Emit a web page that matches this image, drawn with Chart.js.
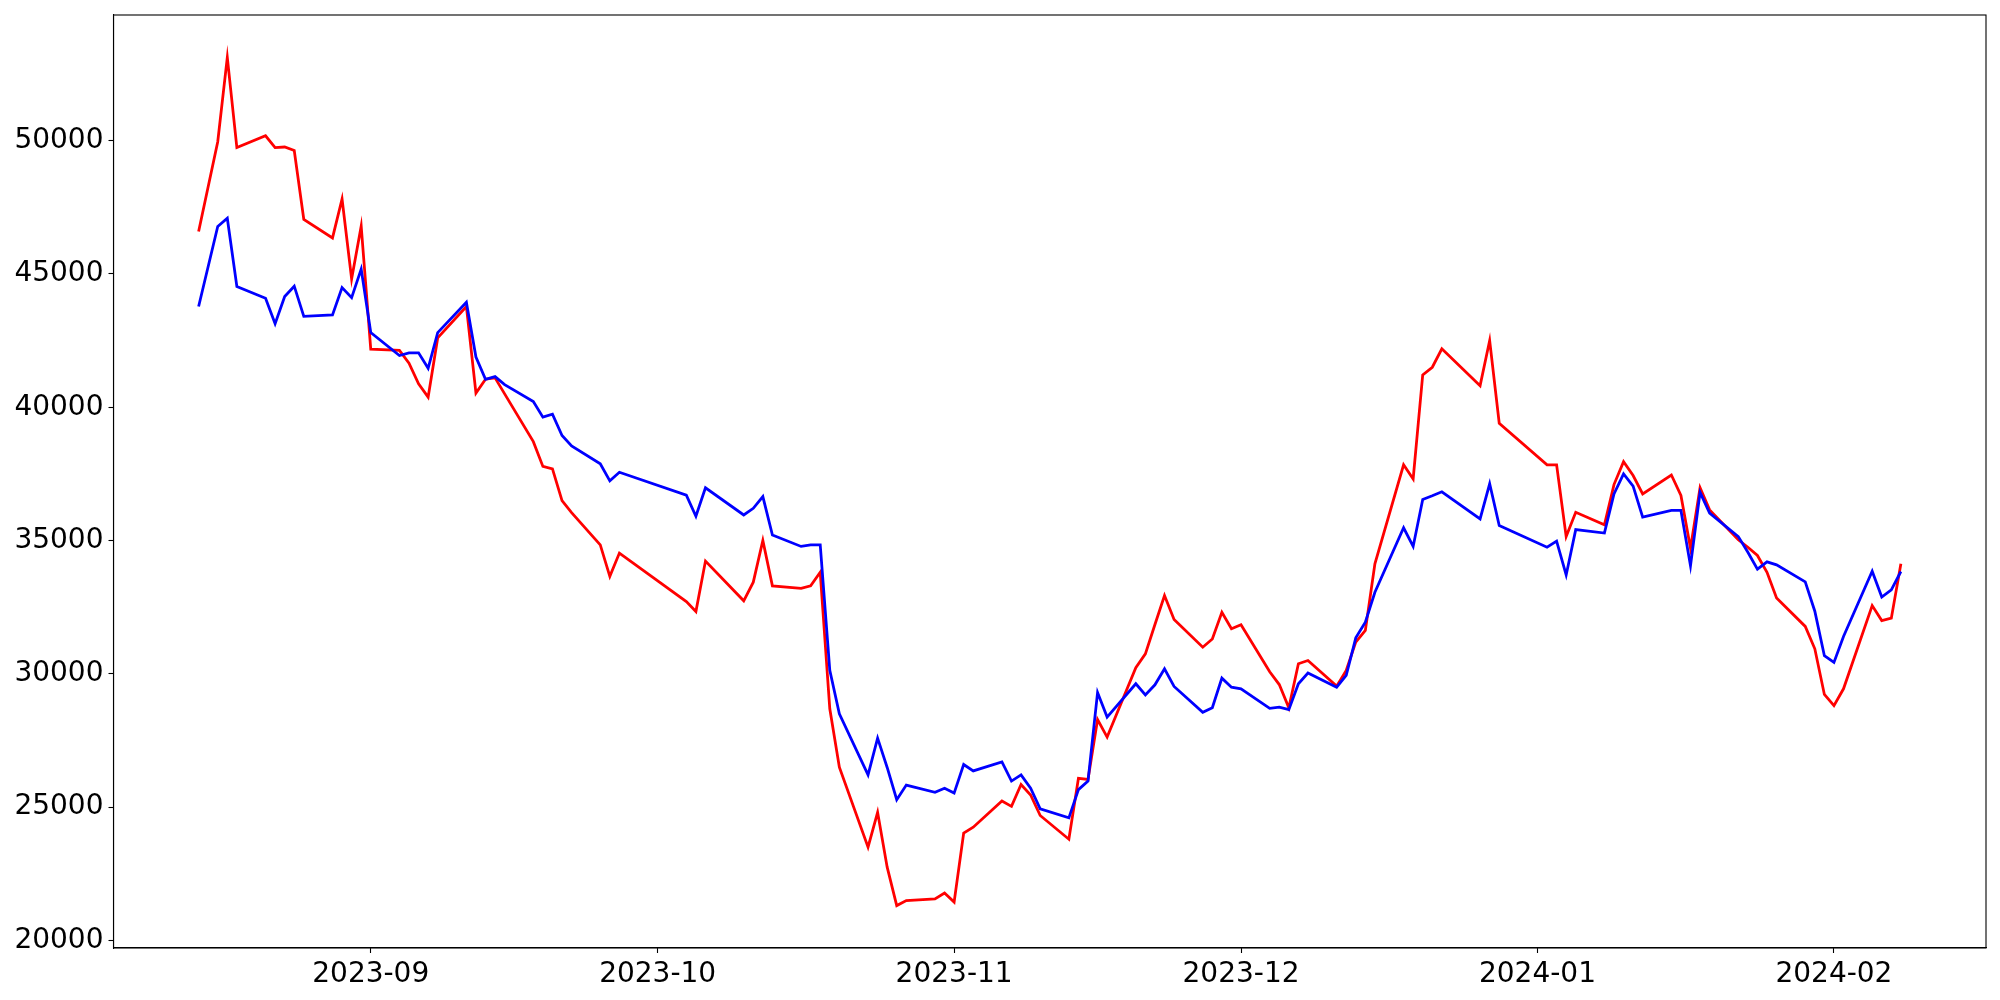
<!DOCTYPE html>
<html>
<head>
<meta charset="utf-8">
<script src="https://cdn.jsdelivr.net/npm/chart.js@4.4.1/dist/chart.umd.min.js"></script>
<style>
  html, body { margin: 0; padding: 0; background: #ffffff; }
  #wrap { width: 2000px; height: 1000px; position: relative; }
</style>
</head>
<body>
<div id="wrap"><canvas id="c" width="2000" height="1000"></canvas></div>
<script>
const dates = [
  "2023-08-14","2023-08-16","2023-08-17","2023-08-18","2023-08-21","2023-08-22","2023-08-23","2023-08-24","2023-08-25","2023-08-28","2023-08-29","2023-08-30","2023-08-31",
  "2023-09-01","2023-09-04","2023-09-05","2023-09-06","2023-09-07","2023-09-08","2023-09-11","2023-09-12","2023-09-13","2023-09-14","2023-09-15","2023-09-18","2023-09-19","2023-09-20","2023-09-21","2023-09-22","2023-09-25","2023-09-26","2023-09-27",
  "2023-10-04","2023-10-05","2023-10-06","2023-10-10","2023-10-11","2023-10-12","2023-10-13","2023-10-16","2023-10-17","2023-10-18","2023-10-19","2023-10-20","2023-10-23","2023-10-24","2023-10-25","2023-10-26","2023-10-27","2023-10-30","2023-10-31",
  "2023-11-01","2023-11-02","2023-11-03","2023-11-06","2023-11-07","2023-11-08","2023-11-09","2023-11-10","2023-11-13","2023-11-14","2023-11-15","2023-11-16","2023-11-17","2023-11-20","2023-11-21","2023-11-22","2023-11-23","2023-11-24","2023-11-27","2023-11-28","2023-11-29","2023-11-30",
  "2023-12-01","2023-12-04","2023-12-05","2023-12-06","2023-12-07","2023-12-08","2023-12-11","2023-12-12","2023-12-13","2023-12-14","2023-12-15","2023-12-18","2023-12-19","2023-12-20","2023-12-21","2023-12-22","2023-12-26","2023-12-27","2023-12-28",
  "2024-01-02","2024-01-03","2024-01-04","2024-01-05","2024-01-08","2024-01-09","2024-01-10","2024-01-11","2024-01-12","2024-01-15","2024-01-16","2024-01-17","2024-01-18","2024-01-19","2024-01-22","2024-01-23","2024-01-24","2024-01-25","2024-01-26","2024-01-29","2024-01-30","2024-01-31",
  "2024-02-01","2024-02-02","2024-02-05","2024-02-06","2024-02-07","2024-02-08"
];

const redSeries = [
  46590, 49960, 53120, 49740, 50180, 49740, 49760, 49630, 47040, 46350, 47810, 44810, 46790,
  42180, 42130, 41650, 40880, 40380, 42600, 43780, 40530, 41050, 41100, 40500, 38710, 37780, 37690, 36500, 36050, 34840, 33660, 34530,
  32710, 32340, 34230, 32740, 33440, 35000, 33300, 33210, 33300, 33810, 28690, 26500, 23500, 24810, 22750, 21310, 21500, 21560, 21780,
  21440, 24030, 24250, 25230, 25030, 25850, 25460, 24690, 23800, 26080, 26040, 28290, 27630, 30230, 30750, 31850, 32940, 32040, 31000, 31310, 32310, 31690,
  31840, 30080, 29600, 28730, 30380, 30500, 29540, 30130, 31190, 31630, 34130, 37840, 37310, 41210, 41500, 42190, 40810, 42500, 39400,
  37840, 37840, 35150, 36060, 35590, 37100, 37960, 37440, 36750, 37460, 36690, 34710, 36980, 36150, 35030, 34750, 34440, 33810, 32850, 31780, 30940, 29230,
  28810, 29440, 32560, 32000, 32090, 34130
];

const blueSeries = [
  43780, 46780, 47090, 44530, 44090, 43130, 44150, 44540, 43410, 43460, 44490, 44110, 45180,
  42800, 41940, 42040, 42040, 41460, 42800, 43940, 41880, 41050, 41150, 40850, 40210, 39630, 39740, 38940, 38550, 37880, 37240, 37560,
  36700, 35910, 36980, 35960, 36210, 36650, 35210, 34780, 34840, 34840, 30130, 28500, 26210, 27590, 26490, 25280, 25830, 25560, 25710,
  25530, 26600, 26360, 26700, 25980, 26210, 25710, 24940, 24600, 25660, 25980, 29300, 28380, 29630, 29210, 29590, 30190, 29530, 28560, 28730, 29840, 29500,
  29440, 28710, 28750, 28660, 29630, 30030, 29500, 29940, 31350, 31940, 33060, 35480, 34780, 36540, 36680, 36830, 35810, 37130, 35560,
  34750, 34980, 33710, 35410, 35280, 36750, 37500, 37040, 35880, 36130, 36130, 34060, 36810, 36030, 35150, 34560, 33930, 34200, 34090, 33450, 32350, 30680,
  30430, 31400, 33850, 32880, 33150, 33840
];

const xTickLabels = ["2023-09","2023-10","2023-11","2023-12","2024-01","2024-02"];
const yTickValues = [20000, 25000, 30000, 35000, 40000, 45000, 50000];

const toDay = s => Date.parse(s + "T00:00:00Z") / 86400000;
const xs = dates.map(toDay);
const xTickValues = xTickLabels.map(l => toDay(l + "-01"));

const xFirst = xs[0], xLast = xs[xs.length - 1];
const xPad = (xLast - xFirst) * 0.05;
const allY = redSeries.concat(blueSeries);
const yMinD = Math.min(...allY), yMaxD = Math.max(...allY);
const yPad = (yMaxD - yMinD) * 0.05;

const FONT = { family: "'DejaVu Sans', sans-serif", size: 28 };

const framePlugin = {
  id: 'frame',
  afterDraw(chart) {
    const a = chart.chartArea, ctx = chart.ctx;
    ctx.save();
    ctx.strokeStyle = '#000000';
    ctx.lineWidth = 1.1;
    ctx.strokeRect(a.left, a.top, a.right - a.left, a.bottom - a.top);
    ctx.restore();
  }
};

new Chart(document.getElementById('c'), {
  type: 'line',
  data: {
    datasets: [
      {
        label: 'blue',
        data: xs.map((x, i) => ({ x: x, y: blueSeries[i] })),
        borderColor: '#0000ff',
        borderWidth: 2.78,
        pointRadius: 0,
        tension: 0,
        fill: false,
        order: 0
      },
      {
        label: 'red',
        data: xs.map((x, i) => ({ x: x, y: redSeries[i] })),
        borderColor: '#ff0000',
        borderWidth: 2.78,
        pointRadius: 0,
        tension: 0,
        fill: false,
        order: 1
      }
    ]
  },
  options: {
    responsive: false,
    animation: false,
    devicePixelRatio: 1,
    layout: { padding: { left: 0, right: 14, top: 15, bottom: 0 } },
    plugins: { legend: { display: false }, tooltip: { enabled: false } },
    scales: {
      x: {
        type: 'linear',
        min: xFirst - xPad,
        max: xLast + xPad,
        afterBuildTicks(scale) { scale.ticks = xTickValues.map(v => ({ value: v })); },
        afterFit(scale) { scale.height = 52; scale.paddingLeft = 0; scale.paddingRight = 0; },
        grid: { display: true, drawOnChartArea: false, drawTicks: true, tickLength: 5, tickColor: '#000000', tickWidth: 1.1 },
        border: { display: true, color: '#000000', width: 1.1 },
        ticks: {
          color: '#000000',
          font: FONT,
          padding: 5,
          maxRotation: 0,
          autoSkip: false,
          callback(value) {
            const i = xTickValues.indexOf(value);
            return i >= 0 ? xTickLabels[i] : '';
          }
        }
      },
      y: {
        type: 'linear',
        min: yMinD - yPad,
        max: yMaxD + yPad,
        afterBuildTicks(scale) { scale.ticks = yTickValues.map(v => ({ value: v })); },
        afterFit(scale) { scale.width = 113.5; scale.paddingTop = 0; scale.paddingBottom = 0; },
        grid: { display: true, drawOnChartArea: false, drawTicks: true, tickLength: 5, tickColor: '#000000', tickWidth: 1.1 },
        border: { display: true, color: '#000000', width: 1.1 },
        ticks: {
          color: '#000000',
          font: FONT,
          padding: 5,
          autoSkip: false,
          callback(value) { return String(value); }
        }
      }
    }
  },
  plugins: [framePlugin]
});
</script>
</body>
</html>
